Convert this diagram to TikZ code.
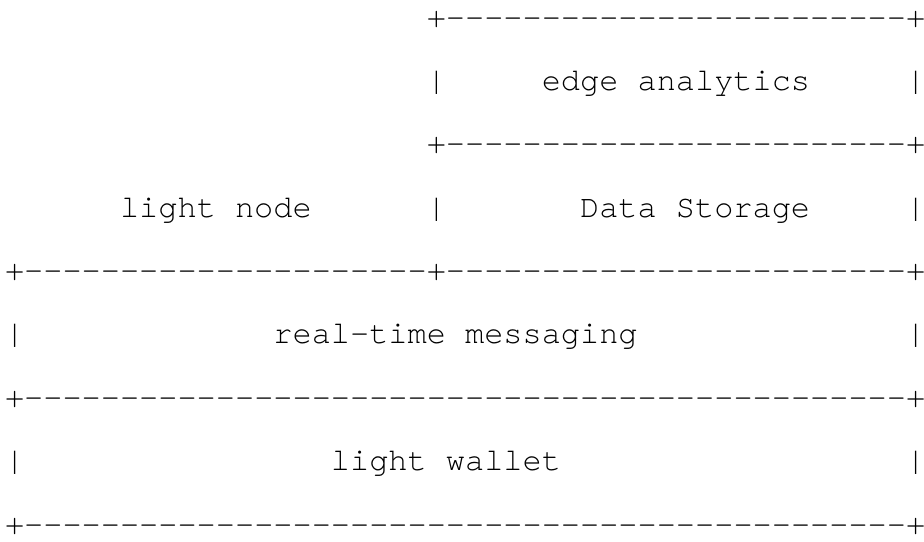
\documentclass[tikz,border=0pt]{standalone}
\usepackage{fontspec}
\setmonofont{texgyrecursor-regular.otf}
\begin{document}
\begin{tikzpicture}[x=6pt,y=-19.84pt,
    ascii/.style={font=\ttfamily\fontsize{10pt}{12pt}\selectfont,inner sep=0pt,anchor=base west}]
    \useasboundingbox (-0.23,-0.426) rectangle ++(48.2,8.548);

    % top box
    \node[ascii] (topA) at (22,0) {+------------------------+};
    \node[ascii] (edgeL) at (22,1) {|};
    \node[ascii] (edge) at (28,1) {edge analytics};
    \node[ascii] (edgeR) at (47,1) {|};
    \node[ascii] (topB) at (22,2) {+------------------------+};

    % light node / storage
    \node[ascii] (light) at (6,3) {light node};
    \node[ascii] (storeL) at (22,3) {|};
    \node[ascii] (store) at (30,3) {Data Storage};
    \node[ascii] (storeR) at (47,3) {|};
    \node[ascii] (midA) at (0,4) {+---------------------+------------------------+};

    % messaging
    \node[ascii] (msgL) at (0,5) {|};
    \node[ascii] (msg) at (14,5) {real-time messaging};
    \node[ascii] (msgR) at (47,5) {|};
    \node[ascii] (midB) at (0,6) {+----------------------------------------------+};

    % wallet
    \node[ascii] (walletL) at (0,7) {|};
    \node[ascii] (wallet) at (17,7) {light wallet};
    \node[ascii] (walletR) at (47,7) {|};
    \node[ascii] (bottom) at (0,8) {+----------------------------------------------+};
\end{tikzpicture}
\end{document}
